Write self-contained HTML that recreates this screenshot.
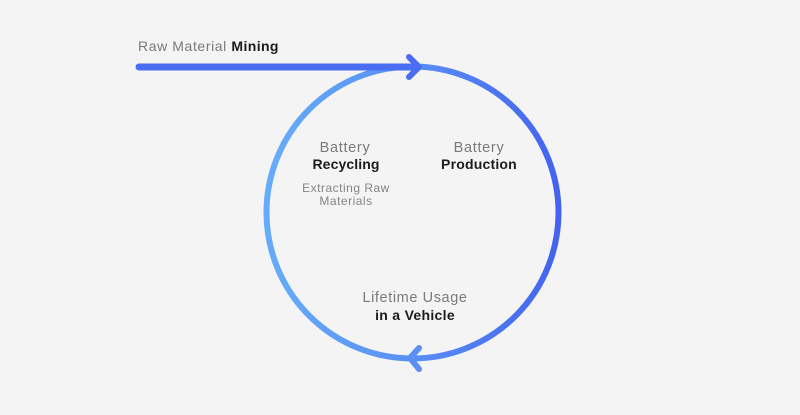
<!DOCTYPE html>
<html>
<head>
<meta charset="utf-8">
<style>
  html,body{margin:0;padding:0;background:#f4f4f4;}
  body{width:800px;height:415px;overflow:hidden;}
  svg{display:block;}
  text{font-family:"Liberation Sans",sans-serif;}
</style>
</head>
<body>
<svg width="800" height="415" viewBox="0 0 800 415" xmlns="http://www.w3.org/2000/svg">
  <defs>
    <linearGradient id="g" x1="265" y1="0" x2="560" y2="0" gradientUnits="userSpaceOnUse">
      <stop offset="0" stop-color="#67acf8"/>
      <stop offset="0.5" stop-color="#5a8ff4"/>
      <stop offset="1" stop-color="#4363ef"/>
    </linearGradient>
  </defs>
  <rect width="800" height="415" fill="#f4f4f4"/>
  <circle cx="412.5" cy="212.5" r="146" fill="none" stroke="url(#g)" stroke-width="6"/>
  <line x1="139" y1="67" x2="418" y2="67" stroke="#4a6ef1" stroke-width="7" stroke-linecap="round"/>
  <polyline points="409,57 419,67 409,77" fill="none" stroke="#4a6ef1" stroke-width="6" stroke-linecap="round" stroke-linejoin="round"/>
  <polyline points="419,348 410,358 419,369" fill="none" stroke="#5a90f4" stroke-width="6" stroke-linecap="round" stroke-linejoin="round"/>

  <text x="138" y="51" font-size="14" fill="#7a7a7a" letter-spacing="0.6">Raw Material <tspan fill="#1c1c1c" font-weight="bold" letter-spacing="0.4">Mining</tspan></text>

  <text x="345" y="152" font-size="14.5" fill="#7a7a7a" text-anchor="middle" letter-spacing="0.7">Battery</text>
  <text x="346" y="169" font-size="14" fill="#1c1c1c" font-weight="bold" text-anchor="middle" letter-spacing="0.1">Recycling</text>
  <text x="346" y="192" font-size="12" fill="#858585" text-anchor="middle" letter-spacing="0.5">Extracting Raw</text>
  <text x="346" y="205" font-size="12" fill="#858585" text-anchor="middle" letter-spacing="0.5">Materials</text>

  <text x="479" y="152" font-size="14.5" fill="#7a7a7a" text-anchor="middle" letter-spacing="0.7">Battery</text>
  <text x="479" y="169" font-size="14" fill="#1c1c1c" font-weight="bold" text-anchor="middle" letter-spacing="0.2">Production</text>

  <text x="415" y="302" font-size="14.5" fill="#7a7a7a" text-anchor="middle" letter-spacing="0.6">Lifetime Usage</text>
  <text x="415" y="320" font-size="14" fill="#1c1c1c" font-weight="bold" text-anchor="middle" letter-spacing="0.3">in a Vehicle</text>
</svg>
</body>
</html>
